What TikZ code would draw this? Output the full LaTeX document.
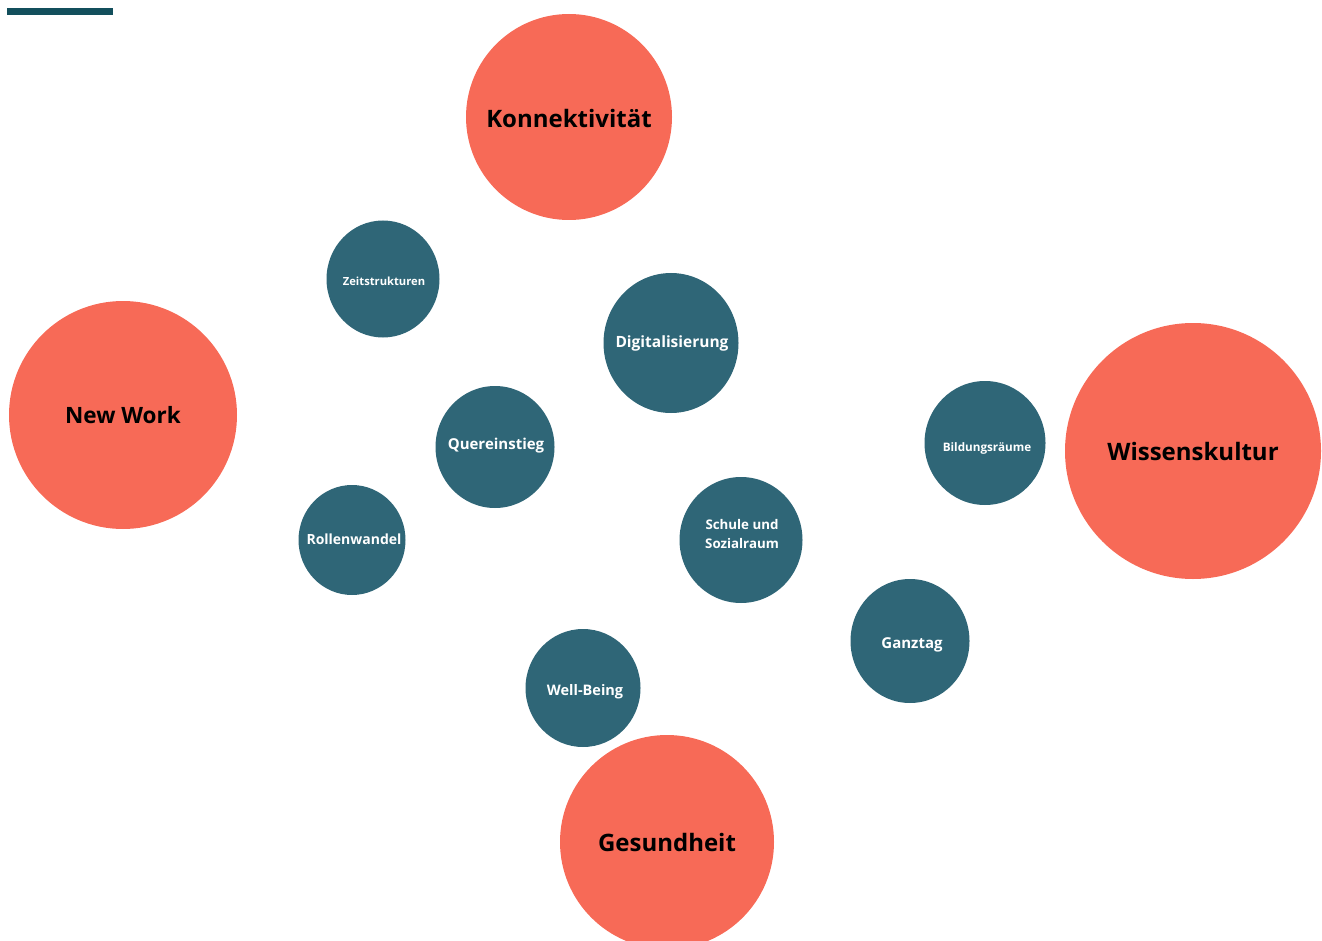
\documentclass[tikz,border=0pt]{standalone}
\usepackage{fontspec}
\setmainfont{Open Sans}
\definecolor{coral}{HTML}{F76A57}
\definecolor{teal}{HTML}{2F6677}
\definecolor{bar}{HTML}{134F5C}
\tikzset{
  big/.style={circle, fill=coral, inner sep=0pt, text=black, font=\fontsize{24}{28}\selectfont\bfseries},
  small/.style={inner sep=0pt, text=white, align=center, font=\fontsize{14.5}{19}\selectfont\bfseries},
  blob/.style={fill=teal},
}
\begin{document}
\begin{tikzpicture}[x=1pt,y=-1pt]
\useasboundingbox (0,0) rectangle (1322,941);
\begin{scope}
\clip (0,0) rectangle (1322,941);
\fill[bar] (7,8) rectangle (113,15);
\node[big, minimum size=206pt] (kon) at (569,117) {};
\node[text=black, font=\fontsize{24}{28}\selectfont\bfseries, inner sep=0pt] (kont) at (569,119) {Konnektivität};
\node[big, minimum size=228pt, font=\fontsize{22.5}{26}\selectfont\bfseries] (nw) at (123,415) {New Work};
\node[big, minimum size=256pt] (wk) at (1193,451) {Wissenskultur};
\node[big, minimum size=214pt] (ges) at (667,842) {Gesundheit};
\fill[blob] (383,279) ellipse (56.5pt and 58.5pt);
\fill[blob] (671,343) ellipse (67.5pt and 70pt);
\fill[blob] (495,447) ellipse (59.5pt and 61pt);
\fill[blob] (352,540) ellipse (53.5pt and 55pt);
\fill[blob] (985,443) ellipse (60.5pt and 62pt);
\fill[blob] (741,540) ellipse (61.5pt and 63pt);
\fill[blob] (910,641) ellipse (59.5pt and 62pt);
\fill[blob] (583,688) ellipse (57.5pt and 59pt);
\node[small, font=\fontsize{11.2}{14}\selectfont\bfseries] (zs) at (384,281) {Zeitstrukturen};
\node[small, font=\fontsize{15.5}{19}\selectfont\bfseries] (dig) at (672,343) {Digitalisierung};
\node[small, font=\fontsize{15}{19}\selectfont\bfseries] (qe) at (496,446) {Quereinstieg};
\node[small, font=\fontsize{14}{18}\selectfont\bfseries] (rw) at (354,539) {Rollenwandel};
\node[small, font=\fontsize{11.7}{14}\selectfont\bfseries] (br) at (987,448) {Bildungsräume};
\node[small, font=\fontsize{13.3}{19}\selectfont\bfseries] (ss) at (742,534) {Schule und\\Sozialraum};
\node[small, font=\fontsize{15}{19}\selectfont\bfseries] (gt) at (912,645) {Ganztag};
\node[small] (wb) at (585,692) {Well-Being};
\end{scope}
\end{tikzpicture}
\end{document}
